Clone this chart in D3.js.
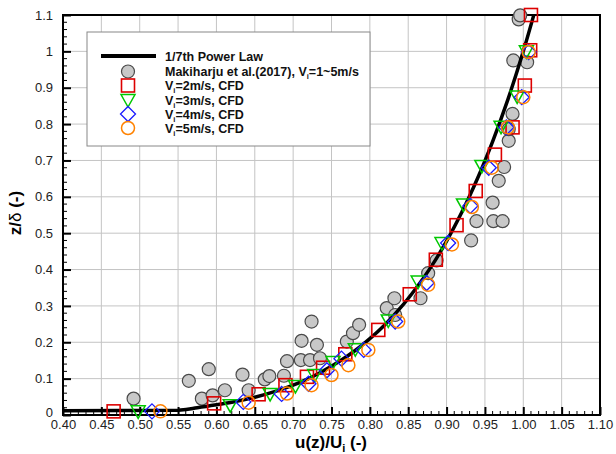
<!DOCTYPE html>
<html>
<head>
<meta charset="utf-8">
<script src="https://cdn.jsdelivr.net/npm/d3@7"></script>
<style>
  body { margin: 0; background: #fff; }
  svg { font-family: "Liberation Sans", Arial, sans-serif; }
</style>
</head>
<body>
<svg id="chart" width="616" height="454"></svg>
<script>
// ---- data ----
const xTicks = [0.40, 0.45, 0.50, 0.55, 0.60, 0.65, 0.70, 0.75, 0.80, 0.85, 0.90, 0.95, 1.00, 1.05, 1.10];
const yTicks = [0, 0.1, 0.2, 0.3, 0.4, 0.5, 0.6, 0.7, 0.8, 0.9, 1, 1.1];

// 1/7th power law curve
const lawU = [0.40, 0.55, 0.575, 0.60, 0.62, 0.65, 0.68, 0.70, 0.72, 0.74, 0.76, 0.78, 0.80, 0.82, 0.84, 0.86, 0.88, 0.90, 0.92, 0.94, 0.96, 0.98, 1.00, 1.0137];
const lawZ = [0.012, 0.013, 0.020, 0.028, 0.035, 0.049, 0.067, 0.082, 0.100, 0.122, 0.147, 0.176, 0.210, 0.249, 0.295, 0.348, 0.408, 0.478, 0.558, 0.649, 0.752, 0.868, 1.00, 1.10];

// Makiharju et al. (2017)
const expU = [0.492, 0.564, 0.581, 0.590, 0.595, 0.611, 0.634, 0.642, 0.663, 0.669, 0.688, 0.692, 0.710, 0.711, 0.722, 0.724, 0.731, 0.735, 0.770, 0.778, 0.786, 0.822, 0.832, 0.833, 0.866, 0.876, 0.887, 0.932, 0.939, 0.960, 0.961, 0.973, 0.968, 0.975, 0.981, 0.981, 0.986, 0.987, 1.005, 0.994, 0.996];
const expZ = [0.045, 0.094, 0.045, 0.126, 0.054, 0.068, 0.111, 0.068, 0.098, 0.107, 0.108, 0.148, 0.151, 0.204, 0.151, 0.257, 0.193, 0.156, 0.202, 0.225, 0.248, 0.294, 0.321, 0.275, 0.321, 0.390, 0.425, 0.480, 0.533, 0.584, 0.533, 0.533, 0.644, 0.682, 0.754, 0.786, 0.828, 0.975, 0.970, 1.088, 1.099];

// CFD, Vi = 2 m/s
const v2U = [0.466, 0.597, 0.655, 0.690, 0.718, 0.739, 0.768, 0.811, 0.852, 0.886, 0.913, 0.938, 0.963, 0.986, 1.002, 1.009, 1.010];
const v2Z = [0.010, 0.032, 0.057, 0.082, 0.105, 0.130, 0.167, 0.234, 0.332, 0.427, 0.522, 0.616, 0.716, 0.791, 0.906, 1.003, 1.100];
// CFD, Vi = 3 m/s
const v3U = [0.498, 0.618, 0.670, 0.703, 0.728, 0.752, 0.781, 0.824, 0.863, 0.894, 0.922, 0.946, 0.971, 0.992, 1.004];
const v3Z = [0.010, 0.027, 0.058, 0.080, 0.110, 0.146, 0.181, 0.260, 0.367, 0.473, 0.579, 0.685, 0.793, 0.876, 1.000];
// CFD, Vi = 4 m/s
const v4U = [0.516, 0.635, 0.685, 0.720, 0.744, 0.763, 0.792, 0.833, 0.874, 0.902, 0.931, 0.955, 0.978, 0.998, 1.007];
const v4Z = [0.010, 0.036, 0.058, 0.086, 0.123, 0.155, 0.179, 0.257, 0.363, 0.473, 0.575, 0.680, 0.791, 0.874, 0.998];
// CFD, Vi = 5 m/s
const v5U = [0.527, 0.642, 0.692, 0.724, 0.750, 0.772, 0.798, 0.837, 0.876, 0.907, 0.933, 0.959, 0.980, 1.000, 1.007];
const v5Z = [0.010, 0.034, 0.059, 0.082, 0.110, 0.137, 0.179, 0.257, 0.358, 0.469, 0.572, 0.680, 0.791, 0.874, 0.998];

const zip = (a, b) => a.map((v, i) => ({ u: v, z: b[i] }));

// ---- layout ----
const svg = d3.select("#chart");
const m = { left: 63, right: 600, top: 15, bottom: 415 };

const x = d3.scaleLinear().domain([0.40, 1.10]).range([m.left, m.right]);
const y = d3.scaleLinear().domain([0, 1.1]).range([m.bottom, m.top]);

svg.append("rect").attr("width", 616).attr("height", 454).attr("fill", "#fff");

// grid
const grid = svg.append("g").attr("stroke", "#c4c4c4").attr("stroke-width", 1);
grid.selectAll(".gx").data(xTicks.slice(1, -1)).join("line")
  .attr("x1", d => x(d)).attr("x2", d => x(d))
  .attr("y1", m.top).attr("y2", m.bottom);
grid.selectAll(".gy").data(yTicks.slice(1, -1)).join("line")
  .attr("x1", m.left).attr("x2", m.right)
  .attr("y1", d => y(d)).attr("y2", d => y(d));

// axes with inward ticks
const xAxis = d3.axisBottom(x).tickValues(xTicks).tickFormat(d3.format(".2f")).tickSize(-8).tickPadding(5);
const gx = svg.append("g").attr("transform", `translate(0,${m.bottom})`).call(xAxis);
gx.select(".domain").remove();
gx.selectAll(".tick line").attr("stroke", "#000").attr("stroke-width", 2);
gx.selectAll("text").attr("font-size", 13).attr("fill", "#222");

const xMinor = d3.range(0.40, 1.1001, 0.01).filter(v => Math.abs(Math.round(v * 20) - v * 20) > 1e-6);
svg.append("g").selectAll("line").data(xMinor).join("line")
  .attr("x1", d => x(d)).attr("x2", d => x(d))
  .attr("y1", m.bottom).attr("y2", m.bottom - 4)
  .attr("stroke", "#000").attr("stroke-width", 1);

const yAxis = d3.axisLeft(y).tickValues(yTicks).tickFormat(d => d3.format("~g")(d)).tickSize(-8).tickPadding(10);
const gy = svg.append("g").attr("transform", `translate(${m.left},0)`).call(yAxis);
gy.select(".domain").remove();
gy.selectAll(".tick line").attr("stroke", "#000").attr("stroke-width", 2);
gy.selectAll("text").attr("font-size", 13).attr("fill", "#222");
// lift the "0" label a touch so it clears "0.40"
gy.selectAll(".tick").filter(d => d === 0).select("text").attr("dy", "0.1em");

const yMinor = d3.range(0, 1.1001, 0.02).filter(v => Math.abs(Math.round(v * 10) - v * 10) > 1e-6);
svg.append("g").selectAll("line").data(yMinor).join("line")
  .attr("x1", m.left).attr("x2", m.left + 4)
  .attr("y1", d => y(d)).attr("y2", d => y(d))
  .attr("stroke", "#000").attr("stroke-width", 1);

// frame
svg.append("rect")
  .attr("x", m.left).attr("y", m.top)
  .attr("width", m.right - m.left).attr("height", m.bottom - m.top)
  .attr("fill", "none").attr("stroke", "#000").attr("stroke-width", 2);

// axis titles
const xt = svg.append("text").attr("x", 331).attr("y", 448)
  .attr("text-anchor", "middle").attr("font-size", 17).attr("font-weight", "bold");
xt.append("tspan").text("u(z)/U");
xt.append("tspan").attr("font-size", 11).attr("dy", 4).text("i");
xt.append("tspan").attr("dy", -4).text(" (-)");

const yt = svg.append("text").attr("transform", "translate(21,213) rotate(-90)")
  .attr("text-anchor", "middle").attr("font-size", 17).attr("font-weight", "bold");
yt.append("tspan").text("z/");
yt.append("tspan").attr("font-weight", "normal").text("δ");
yt.append("tspan").text(" (-)");

// ---- marks ----
const plot = svg.append("g");

const R = 6.5;
const shapes = {
  gray: (g) => g.append("circle").attr("r", R).attr("fill", "#c8c8c8").attr("stroke", "#4a4a4a").attr("stroke-width", 1.2),
  red: (g) => g.append("rect").attr("x", -6.5).attr("y", -6.5).attr("width", 13).attr("height", 13)
    .attr("fill", "none").attr("stroke", "#dd0000").attr("stroke-width", 1.6),
  green: (g) => g.append("path").attr("d", "M-7,-5.5L7,-5.5L0,7Z")
    .attr("fill", "none").attr("stroke", "#00c800").attr("stroke-width", 1.5),
  blue: (g) => g.append("path").attr("d", "M0,-7.5L7.5,0L0,7.5L-7.5,0Z")
    .attr("fill", "none").attr("stroke", "#1a1aff").attr("stroke-width", 1.3),
  orange: (g) => g.append("circle").attr("r", R)
    .attr("fill", "none").attr("stroke", "#ff8200").attr("stroke-width", 1.5)
};

function drawSeries(data, shape) {
  plot.append("g").selectAll("g").data(data).join("g")
    .attr("transform", d => `translate(${x(d.u)},${y(d.z)})`)
    .each(function () { shapes[shape](d3.select(this)); });
}

drawSeries(zip(expU, expZ), "gray");

const line = d3.line().x(d => x(d.u)).y(d => y(d.z)).curve(d3.curveMonotoneY);
plot.append("path").datum(zip(lawU, lawZ))
  .attr("fill", "none").attr("stroke", "#000").attr("stroke-width", 3.5)
  .attr("d", line);

drawSeries(zip(v2U, v2Z), "red");
drawSeries(zip(v3U, v3Z), "green");
drawSeries(zip(v4U, v4Z), "blue");
drawSeries(zip(v5U, v5Z), "orange");

// ---- legend ----
const lg = svg.append("g");
lg.append("rect").attr("x", 87).attr("y", 32).attr("width", 283).attr("height", 114)
  .attr("fill", "#fff").attr("stroke", "#888").attr("stroke-width", 1);

const legendRows = [
  { shape: "line", label: "1/7th Power Law" },
  { shape: "gray", label: "Makiharju et al.(2017), V", sub: "i", rest: "=1~5m/s" },
  { shape: "red", label: "V", sub: "i", rest: "=2m/s, CFD" },
  { shape: "green", label: "V", sub: "i", rest: "=3m/s, CFD" },
  { shape: "blue", label: "V", sub: "i", rest: "=4m/s, CFD" },
  { shape: "orange", label: "V", sub: "i", rest: "=5m/s, CFD" }
];
const rowY = [56, 71.5, 85.5, 100, 114, 128];

legendRows.forEach((r, i) => {
  const cy = rowY[i];
  if (r.shape === "line") {
    lg.append("line").attr("x1", 101).attr("x2", 156).attr("y1", cy).attr("y2", cy)
      .attr("stroke", "#000").attr("stroke-width", 4);
  } else {
    const g = lg.append("g").attr("transform", `translate(128,${cy})`);
    shapes[r.shape](g);
  }
  const t = lg.append("text").attr("x", 165).attr("y", cy + 4.5)
    .attr("font-size", 12.5).attr("font-weight", "bold").attr("fill", "#111");
  t.append("tspan").text(r.label);
  if (r.sub) {
    t.append("tspan").attr("font-size", 7.5).attr("dy", 3).text(r.sub);
    t.append("tspan").attr("dy", -3).text(r.rest);
  }
});
</script>
</body>
</html>
